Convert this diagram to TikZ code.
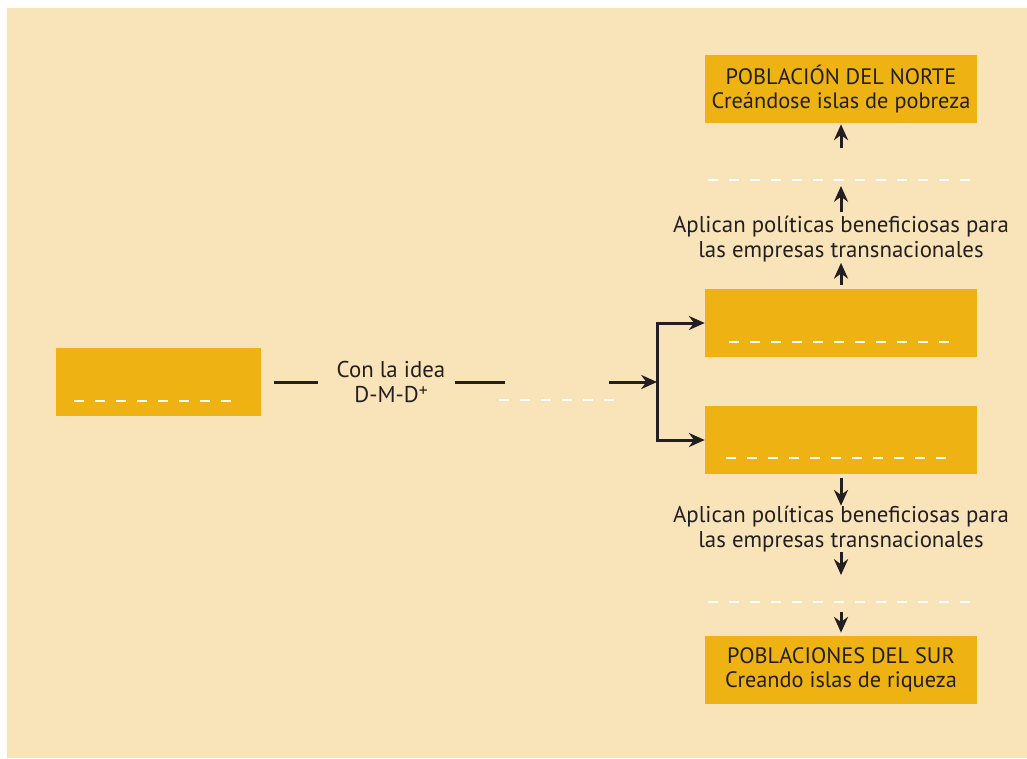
\documentclass[tikz,border=0pt]{standalone}
\usepackage{fontspec}
\setmainfont{PT Sans}
\usetikzlibrary{positioning,arrows.meta}
\definecolor{fondo}{HTML}{F9E3B9}
\definecolor{amarillo}{HTML}{EEB312}
\definecolor{tinta}{HTML}{231F20}
\tikzset{
  caja/.style={fill=amarillo, minimum width=5.44cm, minimum height=1.36cm, inner sep=0pt, align=center, text=tinta, font=\fontsize{12.7}{13.6}\selectfont},
  texto/.style={align=center, text=tinta, inner sep=0pt, font=\fontsize{13}{14.2}\selectfont},
  linea/.style={tinta, line width=1.7pt},
  flecha/.style={tinta, line width=1.7pt, -{Stealth[length=9pt,width=8pt]}},
  raya/.style={white, line width=1.2pt, dash pattern=on 0.2cm off 0.22cm},
}
\begin{document}
\begin{tikzpicture}[x=0.02cm,y=-0.02cm]
\useasboundingbox (0,0) rectangle (1027,758);
\fill[fondo] (7,8) rectangle (1027,758);

% cajas
\node[caja, minimum width=4.1cm] (capital) at (158.5,382) {};
\node[caja] (medio1) at (841,323) {};
\node[caja] (medio2) at (841,440) {};
\node[caja] (norte) at (841,89) {POBLACIÓN DEL NORTE\\Creándose islas de pobreza};
\node[caja] (sur) at (841,670) {POBLACIONES DEL SUR\\Creando islas de riqueza};

% textos
\node[texto] (idea) at (391,382) {Con la idea\\D-M-D\raisebox{0.55ex}{\fontsize{10}{10}\selectfont +}};
\node[texto] (politN) at (841,239.5) {Aplican políticas beneficiosas para\\las empresas transnacionales};
\node[texto] (politS) at (841,529) {Aplican políticas beneficiosas para\\las empresas transnacionales};

% huecos
\coordinate (hueco) at (557,382);
\coordinate (rama) at (657,382);
\coordinate (vacioN) at (841,180);
\coordinate (vacioS) at (841,602);
\draw[raya] (74,401) -- (236,401);
\draw[raya] (499,400) -- (616,400);
\draw[raya] (729,342) -- (954,342);
\draw[raya] (726,458) -- (951,458);
\draw[raya] (708,180) -- (975,180);
\draw[raya] (708,602) -- (975,602);

% lineas
\draw[linea, shorten <=0.26cm, shorten >=0.36cm] (capital) -- (idea);
\draw[linea, shorten <=0.18cm, shorten >=1.04cm] (idea) -- (hueco);
\draw[flecha, shorten <=1.04cm] (hueco) -- (rama);
\draw[flecha] (rama) |- (medio1.west);
\draw[flecha] (rama) |- (medio2.west);

\draw[flecha, shorten <=0.08cm] (medio1) -- (politN);
\draw[flecha, shorten <=0.08cm, shorten >=0.12cm] (politN) -- (vacioN);
\draw[flecha, shorten <=0.64cm, shorten >=0.02cm] (vacioN) -- (norte);

\draw[flecha, shorten <=0.08cm] (medio2) -- (politS);
\draw[flecha, shorten >=0.54cm] (politS) -- (vacioS);
\draw[flecha, shorten <=0.2cm, shorten >=0.06cm] (vacioS) -- (sur);
\end{tikzpicture}
\end{document}
